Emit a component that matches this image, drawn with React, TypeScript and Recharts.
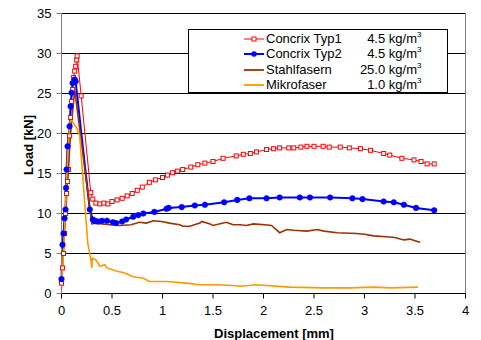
import {
  CartesianGrid,
  Legend,
  Line,
  LineChart,
  ReferenceLine,
  XAxis,
  YAxis,
} from "recharts";

const xTicks = [0, 0.5, 1, 1.5, 2, 2.5, 3, 3.5, 4];
const yTicks = [0, 5, 10, 15, 20, 25, 30, 35];

const seriesNames = ["Concrix Typ1", "Concrix Typ2", "Stahlfasern", "Mikrofaser"];
const dosages = ["4.5", "4.5", "25.0", "1.0"];
const colors = ["#ff0000", "#0000ff", "#993300", "#ff9900"];

// Concrix Typ1 (red, hollow squares)
const typ1Disp = [
  0, 0.01, 0.02, 0.03, 0.04, 0.05, 0.06, 0.07, 0.08, 0.09, 0.1, 0.11, 0.12, 0.13, 0.14,
  0.15, 0.155, 0.195, 0.29, 0.31, 0.34, 0.38, 0.42, 0.46, 0.5, 0.55, 0.6, 0.65, 0.7, 0.75,
  0.8, 0.87, 0.93, 1.0, 1.05, 1.1, 1.15, 1.2, 1.28, 1.35, 1.42, 1.5, 1.6, 1.73, 1.8, 1.87,
  1.93, 2.03, 2.1, 2.16, 2.25, 2.3, 2.37, 2.43, 2.5, 2.59, 2.65, 2.76, 2.85, 2.96, 3.06,
  3.19, 3.25, 3.37, 3.49, 3.56, 3.62, 3.69,
];
const typ1Load = [
  1.3, 3.2, 5, 7.5, 10, 12.5, 14, 15.5, 19.7, 22, 24, 25.5, 27, 27.8, 28.4, 29.2, 29.7,
  24.7, 12.6, 11.8, 11.3, 11.2, 11.3, 11.2, 11.5, 11.7, 11.9, 12.2, 12.5, 12.9, 13.3,
  13.9, 14.2, 14.5, 14.8, 15.1, 15.3, 15.5, 15.8, 16.1, 16.3, 16.5, 16.9, 17.2, 17.4,
  17.5, 17.7, 18.0, 18.1, 18.2, 18.2, 18.2, 18.3, 18.4, 18.4, 18.4, 18.3, 18.3, 18.2,
  18.1, 17.9, 17.5, 17.3, 16.9, 16.7, 16.5, 16.2, 16.2,
];

// Concrix Typ2 (blue, filled dots)
const typ2Disp = [
  0, 0.01, 0.02, 0.03, 0.04, 0.045, 0.05, 0.06, 0.08, 0.09, 0.1, 0.11, 0.13, 0.14, 0.28,
  0.31, 0.33, 0.36, 0.4, 0.45, 0.51, 0.54, 0.6, 0.64, 0.71, 0.76, 0.81, 0.92, 1.04, 1.06,
  1.19, 1.32, 1.42, 1.61, 1.74, 1.86, 2.03, 2.16, 2.36, 2.46, 2.66, 2.88, 2.98, 3.19,
  3.29, 3.39, 3.51, 3.69,
];
const typ2Load = [
  1.8, 6.1, 7.5, 9.4, 10.5, 13.2, 15.5, 18.4, 20.9, 23.4, 25.1, 26.3, 26.75, 26.5, 10.5,
  9.25, 9.1, 9.0, 9.1, 9.1, 8.9, 8.8, 9.0, 9.25, 9.6, 9.8, 10.0, 10.2, 10.6, 10.7, 10.8,
  11.0, 11.1, 11.4, 11.7, 11.9, 11.9, 12.0, 12.0, 12.0, 12.0, 11.9, 11.8, 11.5, 11.4,
  11.1, 10.7, 10.4,
];

// Stahlfasern (brown)
const stahlDisp = [
  0, 0.05, 0.09, 0.13, 0.3, 0.34, 0.4, 0.48, 0.58, 0.69, 0.77, 0.84, 0.91, 0.99, 1.07,
  1.17, 1.2, 1.27, 1.37, 1.39, 1.47, 1.5, 1.63, 1.7, 1.77, 1.83, 1.9, 2.01, 2.08, 2.16,
  2.23, 2.3, 2.43, 2.53, 2.6, 2.73, 2.92, 3.0, 3.09, 3.22, 3.3, 3.39, 3.45, 3.5, 3.55,
];
const stahlLoad = [
  1.5, 12, 20, 25.5, 8.7, 8.8, 8.7, 8.6, 8.5, 8.6, 8.9, 8.8, 9.1, 9.0, 8.8, 8.6, 8.4,
  8.4, 8.8, 9.0, 8.7, 8.5, 8.9, 8.6, 8.6, 8.5, 8.7, 8.6, 8.5, 7.6, 8.0, 7.9, 7.8, 8.0,
  7.8, 7.6, 7.5, 7.4, 7.2, 7.1, 7.0, 6.7, 6.8, 6.6, 6.4,
];

// Mikrofaser (orange)
const mikroDisp = [
  0, 0.02, 0.04, 0.06, 0.08, 0.09, 0.15, 0.18, 0.26, 0.29, 0.3, 0.305, 0.34, 0.38, 0.43,
  0.45, 0.54, 0.62, 0.71, 0.81, 0.87, 1.04, 1.24, 1.37, 1.53, 1.7, 1.77, 1.93, 2.26, 2.59,
  2.86, 3.09, 3.26, 3.53,
];
const mikroLoad = [
  0.5, 5, 11, 17, 21, 21.8, 20.7, 19.7, 6.3, 4.25, 3.2, 4.4, 4.2, 3.4, 3.6, 3.2, 2.8, 2.6,
  2.1, 1.9, 1.5, 1.5, 1.3, 1.1, 1.1, 1.0, 0.9, 1.1, 0.8, 0.7, 0.7, 0.8, 0.7, 0.8,
];

const toPoints = (xs: number[], ys: number[]) => xs.map((x, i) => ({ x, y: ys[i] }));

const series = [
  toPoints(typ1Disp, typ1Load),
  toPoints(typ2Disp, typ2Load),
  toPoints(stahlDisp, stahlLoad),
  toPoints(mikroDisp, mikroLoad),
];

const font = "'Liberation Sans', Arial, sans-serif";

const renderSquare = (props: { cx?: number; cy?: number; index?: number }) => {
  const { cx, cy, index } = props;
  if (cx == null || cy == null) return <g key={`sq-${index}`} />;
  return (
    <rect
      key={`sq-${index}`}
      x={cx - 2}
      y={cy - 2}
      width={4}
      height={4}
      fill="#ffffff"
      stroke={colors[0]}
      strokeWidth={1}
    />
  );
};

function LegendBox() {
  return (
    <div
      style={{
        position: "relative",
        width: 260,
        height: 64,
        border: "1px solid #000",
        background: "#fff",
        boxSizing: "border-box",
        fontFamily: font,
        fontSize: 13,
        color: "#000",
      }}
    >
      {seriesNames.map((name, i) => (
        <div
          key={name}
          style={{ position: "absolute", left: 0, top: 1 + i * 15.3, height: 15, width: 258 }}
        >
          <svg width={20} height={10} style={{ position: "absolute", left: 55, top: 3 }}>
            <line x1={0} y1={5} x2={20} y2={5} stroke={colors[i]} strokeWidth={i === 1 ? 2 : i === 0 ? 1 : 1.8} />
            {i === 0 && <rect x={8} y={3} width={4} height={4} fill="#fff" stroke={colors[0]} />}
            {i === 1 && <circle cx={10} cy={5} r={2.8} fill={colors[1]} />}
          </svg>
          <span style={{ position: "absolute", left: 77, top: 0, lineHeight: "15px" }}>{name}</span>
          <span
            style={{ position: "absolute", right: 30, top: 0, lineHeight: "15px", whiteSpace: "nowrap" }}
          >
            {dosages[i]} kg/m
            <sup style={{ fontSize: 8, position: "absolute", top: -4, left: "100%" }}>3</sup>
          </span>
        </div>
      ))}
    </div>
  );
}

export default function App() {
  return (
    <div style={{ position: "absolute", left: 0, top: 0, fontFamily: font }}>
      <LineChart width={481} height={340} margin={{ top: 13.5, right: 15.5, bottom: 0, left: 0 }}>
        <CartesianGrid horizontal vertical={false} stroke="#000" strokeWidth={1} />
        <XAxis
          type="number"
          dataKey="x"
          domain={[0, 4]}
          ticks={xTicks}
          height={46.5}
          stroke="#000"
          tickSize={5}
          tickMargin={7}
          tick={{ fill: "#000", fontSize: 13, fontFamily: font }}
          label={() => (
            <text
              x={274}
              y={337.5}
              textAnchor="middle"
              fontWeight="bold"
              fontSize={13}
              fontFamily={font}
              fill="#000"
            >
              Displacement [mm]
            </text>
          )}
        />
        <YAxis
          type="number"
          domain={[0, 35]}
          ticks={yTicks}
          width={61.5}
          stroke="#808080"
          tickSize={5}
          tickMargin={5}
          tick={{ fill: "#000", fontSize: 13, fontFamily: font }}
          label={() => (
            <text
              transform="translate(33,145) rotate(-90)"
              textAnchor="middle"
              fontWeight="bold"
              fontSize={13}
              fontFamily={font}
              fill="#000"
            >
              Load [kN]
            </text>
          )}
        />
        <ReferenceLine x={4} stroke="#808080" />
        <Line
          data={series[0]}
          dataKey="y"
          name={seriesNames[0]}
          stroke={colors[0]}
          strokeWidth={1}
          dot={renderSquare}
          isAnimationActive={false}
        />
        <Line
          data={series[1]}
          dataKey="y"
          name={seriesNames[1]}
          stroke={colors[1]}
          strokeWidth={2}
          dot={{ r: 2.8, fill: colors[1], stroke: colors[1], strokeWidth: 0.5 }}
          isAnimationActive={false}
        />
        <Line
          data={series[2]}
          dataKey="y"
          name={seriesNames[2]}
          stroke={colors[2]}
          strokeWidth={1.6}
          dot={false}
          isAnimationActive={false}
        />
        <Line
          data={series[3]}
          dataKey="y"
          name={seriesNames[3]}
          stroke={colors[3]}
          strokeWidth={1.6}
          dot={false}
          isAnimationActive={false}
        />
        <Legend
          layout="vertical"
          align="center"
          verticalAlign="middle"
          content={() => <LegendBox />}
          wrapperStyle={{ left: 188, top: 29, width: 260, height: 64 }}
        />
      </LineChart>
    </div>
  );
}
